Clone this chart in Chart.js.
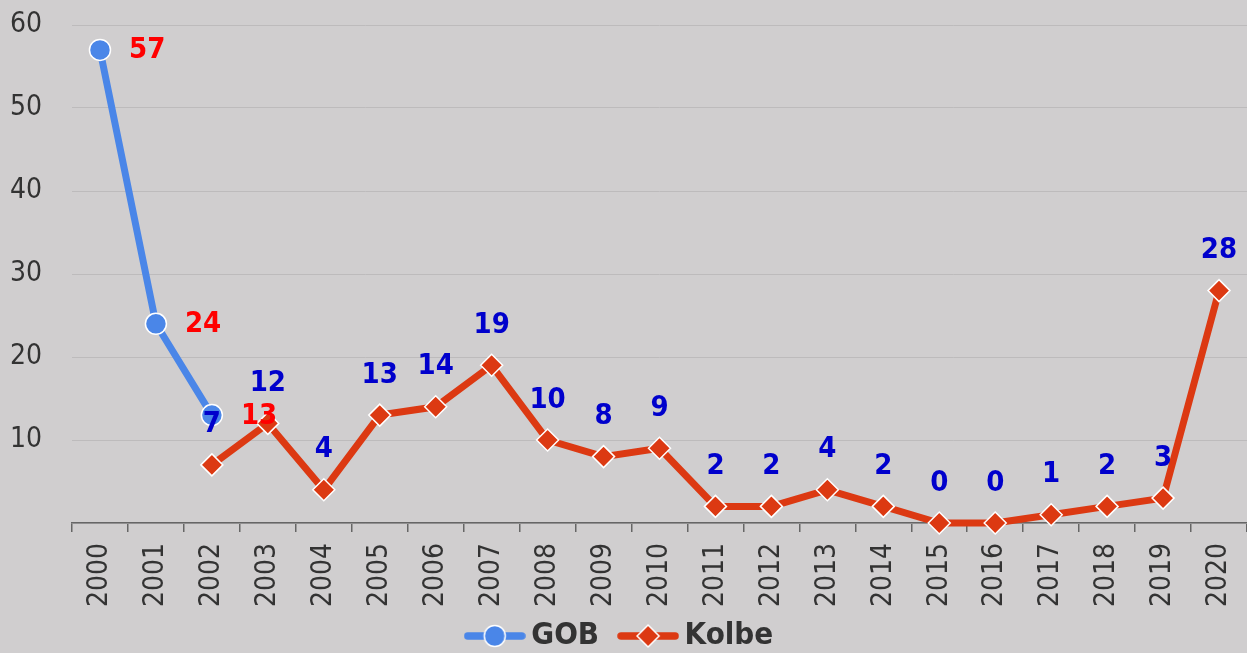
<!DOCTYPE html>
<html>
<head>
<meta charset="utf-8">
<script src="https://cdn.jsdelivr.net/npm/chart.js@4"></script>
<style>
  html, body { margin: 0; padding: 0; background: #d0cecf; }
  #wrap { width: 1247px; height: 653px; }
</style>
</head>
<body>
<div id="wrap"><canvas id="c" width="1247" height="653"></canvas></div>
<script>
const categories = ['2000','2001','2002','2003','2004','2005','2006','2007','2008','2009','2010','2011','2012','2013','2014','2015','2016','2017','2018','2019','2020'];
const gobValues = [57, 24, 13, null, null, null, null, null, null, null, null, null, null, null, null, null, null, null, null, null, null];
const kolbeValues = [null, null, 7, 12, 4, 13, 14, 19, 10, 8, 9, 2, 2, 4, 2, 0, 0, 1, 2, 3, 28];
const yTicks = [0, 10, 20, 30, 40, 50, 60];

const FONT = "'DejaVu Sans Condensed', 'DejaVu Sans', sans-serif";
const GOB_COLOR = '#4a86e8';
const KOLBE_COLOR = '#dc3912';
const LEGEND_PAD = 28;
const LEGEND_FONT = 31;

function legendImage(color, shape) {
  const c = document.createElement('canvas');
  c.width = 62; c.height = 32;
  const g = c.getContext('2d');
  g.strokeStyle = color; g.lineWidth = 7.5; g.lineCap = 'round';
  g.beginPath(); g.moveTo(4, 16); g.lineTo(58, 16); g.stroke();
  g.fillStyle = color; g.strokeStyle = '#ffffff'; g.lineWidth = 1.5;
  g.beginPath();
  if (shape === 'circle') {
    g.arc(31, 16, 10.5, 0, Math.PI * 2);
  } else {
    g.moveTo(31 - 11, 16); g.lineTo(31, 16 - 11); g.lineTo(31 + 11, 16); g.lineTo(31, 16 + 11); g.closePath();
  }
  g.fill(); g.stroke();
  return c;
}
const gobImg = legendImage(GOB_COLOR, 'circle');
const kolbeImg = legendImage(KOLBE_COLOR, 'diamond');

const dataLabels = {
  id: 'dataLabels',
  afterDatasetsDraw(chart) {
    const ctx = chart.ctx;
    ctx.save();
    ctx.font = "bold 29px " + FONT;
    ctx.textBaseline = 'middle';
    chart.data.datasets.forEach((ds, i) => {
      const meta = chart.getDatasetMeta(i);
      meta.data.forEach((pt, j) => {
        const v = ds.data[j];
        if (v === null || v === undefined) return;
        if (i === 0) {
          ctx.fillStyle = '#ff0000';
          ctx.textAlign = 'left';
          ctx.fillText(String(v), pt.x + 29, pt.y + 1);
        } else {
          ctx.fillStyle = '#0000cc';
          ctx.textAlign = 'center';
          ctx.fillText(String(v), pt.x, pt.y - 40);
        }
      });
    });
    ctx.restore();
  }
};

// place the legend row so its text is centred at y = 636
const legendPlacement = {
  id: 'legendPlacement',
  afterLayout(chart) {
    const lg = chart.legend;
    if (!lg) return;
    const h = lg.bottom - lg.top;
    lg.top = 636 - LEGEND_FONT / 2 - LEGEND_PAD;
    lg.bottom = lg.top + h;
  }
};

new Chart(document.getElementById('c'), {
  type: 'line',
  data: {
    labels: categories,
    datasets: [
      {
        label: 'GOB', data: gobValues, borderColor: GOB_COLOR, backgroundColor: GOB_COLOR, borderWidth: 7,
        pointStyle: 'circle', pointRadius: 10.5, pointBorderColor: '#ffffff', pointBorderWidth: 1.5,
        pointBackgroundColor: GOB_COLOR, spanGaps: false, clip: false
      },
      {
        label: 'Kolbe', data: kolbeValues, borderColor: KOLBE_COLOR, backgroundColor: KOLBE_COLOR, borderWidth: 7,
        pointStyle: 'rectRot', pointRadius: 11, pointBorderColor: '#ffffff', pointBorderWidth: 1.5,
        pointBackgroundColor: KOLBE_COLOR, spanGaps: false, clip: false
      }
    ]
  },
  options: {
    responsive: false,
    animation: false,
    layout: { autoPadding: false, padding: { top: 25, bottom: -29, left: 0, right: 0 } },
    plugins: {
      legend: {
        position: 'bottom',
        labels: {
          usePointStyle: true, pointStyleWidth: 42, padding: LEGEND_PAD, color: '#333333',
          font: { family: FONT, size: LEGEND_FONT, weight: 'bold' },
          generateLabels(chart) {
            return [
              { text: 'GOB', pointStyle: gobImg, fillStyle: GOB_COLOR, strokeStyle: GOB_COLOR, lineWidth: 0, datasetIndex: 0, fontColor: '#333333' },
              { text: 'Kolbe', pointStyle: kolbeImg, fillStyle: KOLBE_COLOR, strokeStyle: KOLBE_COLOR, lineWidth: 0, datasetIndex: 1, fontColor: '#333333' }
            ];
          }
        }
      },
      tooltip: { enabled: false }
    },
    scales: {
      x: {
        type: 'category', offset: true,
        grid: { display: true, offset: true, drawOnChartArea: false, drawTicks: true, tickLength: 9, color: '#666666', lineWidth: 1.5 },
        border: { display: true, color: '#666666', width: 1.5 },
        ticks: { color: '#333333', font: { family: FONT, size: 28 }, minRotation: 90, maxRotation: 90, padding: 11, autoSkip: false },
        afterFit(scale) { scale.height = 90; scale.paddingLeft = 0; scale.paddingRight = 0; }
      },
      y: {
        min: 0, max: 60,
        afterBuildTicks(scale) { scale.ticks = yTicks.map(v => ({ value: v })); },
        grid: { color: '#bdbbbc', lineWidth: 1, drawTicks: false },
        border: { display: false },
        ticks: { color: '#333333', font: { family: FONT, size: 28 }, padding: 30, callback(v) { return v === 0 ? '' : String(v); } },
        afterFit(scale) { scale.width = 72; scale.paddingTop = 0; scale.paddingBottom = 0; }
      }
    }
  },
  plugins: [dataLabels, legendPlacement]
});
</script>
</body>
</html>
